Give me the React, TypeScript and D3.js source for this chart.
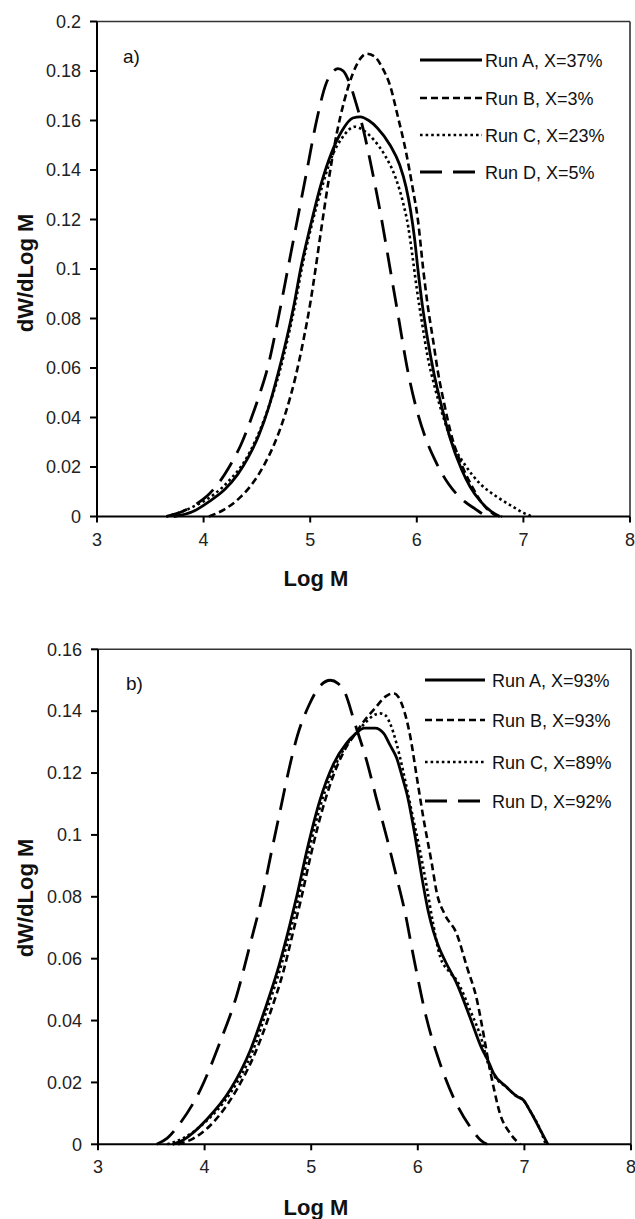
import React from "react";
import * as d3 from "d3";

type Pt = [number, number];

// ---------- Panel a) ----------
const aRunA: Pt[] = [[3.72,0],[3.9,0.002],[4.05,0.006],[4.2,0.011],[4.32,0.017],[4.42,0.024],[4.52,0.033],[4.61,0.044],[4.7,0.058],[4.78,0.072],[4.85,0.086],[4.91,0.1],[5.0,0.117],[5.1,0.134],[5.2,0.147],[5.3,0.156],[5.4,0.161],[5.47,0.1615],[5.55,0.16],[5.63,0.157],[5.75,0.15],[5.84,0.142],[5.9,0.133],[5.94,0.124],[5.98,0.112],[6.01,0.1],[6.05,0.086],[6.1,0.072],[6.16,0.058],[6.23,0.045],[6.31,0.032],[6.42,0.019],[6.5,0.012],[6.6,0.006],[6.7,0.002],[6.78,0]];
const aRunB: Pt[] = [[4.05,0],[4.2,0.003],[4.35,0.008],[4.47,0.014],[4.57,0.021],[4.67,0.03],[4.77,0.042],[4.86,0.056],[4.94,0.072],[5.0,0.086],[5.05,0.1],[5.1,0.115],[5.17,0.135],[5.25,0.155],[5.32,0.168],[5.4,0.179],[5.47,0.185],[5.53,0.187],[5.6,0.186],[5.68,0.181],[5.75,0.174],[5.82,0.162],[5.9,0.147],[5.96,0.133],[6.01,0.12],[6.06,0.1],[6.1,0.086],[6.15,0.072],[6.2,0.058],[6.26,0.045],[6.33,0.032],[6.43,0.02],[6.52,0.012],[6.62,0.005],[6.72,0.001],[6.8,0]];
const aRunC: Pt[] = [[3.65,0],[3.8,0.002],[3.95,0.005],[4.1,0.009],[4.25,0.015],[4.38,0.022],[4.49,0.031],[4.6,0.043],[4.71,0.058],[4.79,0.072],[4.86,0.086],[4.92,0.1],[5.01,0.117],[5.11,0.133],[5.2,0.145],[5.3,0.153],[5.42,0.1575],[5.5,0.156],[5.6,0.152],[5.7,0.146],[5.8,0.137],[5.87,0.127],[5.92,0.117],[5.96,0.105],[6.0,0.092],[6.05,0.078],[6.1,0.065],[6.17,0.052],[6.25,0.04],[6.33,0.03],[6.45,0.021],[6.6,0.013],[6.75,0.008],[6.9,0.004],[7.0,0.0015],[7.08,0]];
const aRunD: Pt[] = [[3.65,0],[3.8,0.002],[3.93,0.005],[4.05,0.009],[4.15,0.014],[4.24,0.02],[4.35,0.029],[4.45,0.04],[4.53,0.05],[4.6,0.06],[4.7,0.08],[4.79,0.1],[4.88,0.12],[4.97,0.14],[5.06,0.16],[5.15,0.175],[5.22,0.18],[5.26,0.181],[5.31,0.18],[5.37,0.175],[5.43,0.167],[5.5,0.156],[5.58,0.14],[5.67,0.12],[5.75,0.1],[5.83,0.08],[5.91,0.06],[6.0,0.043],[6.08,0.032],[6.18,0.022],[6.3,0.013],[6.45,0.006],[6.55,0.003],[6.65,0]];
const aLabels = ["Run A, X=37%", "Run B, X=3%", "Run C, X=23%", "Run D, X=5%"];
const aYTicks = [0, 0.02, 0.04, 0.06, 0.08, 0.1, 0.12, 0.14, 0.16, 0.18, 0.2];

// ---------- Panel b) ----------
const bRunA: Pt[] = [[3.7,0],[3.8,0.0014],[4.02,0.008],[4.24,0.0176],[4.43,0.0305],[4.56,0.043],[4.7,0.058],[4.8,0.071],[4.87,0.081],[4.96,0.095],[5.08,0.111],[5.21,0.123],[5.33,0.1296],[5.41,0.1325],[5.5,0.1345],[5.6,0.1345],[5.68,0.1328],[5.74,0.129],[5.8,0.125],[5.86,0.118],[5.9,0.113],[5.97,0.1005],[6.05,0.084],[6.1,0.075],[6.145,0.069],[6.2,0.0635],[6.26,0.059],[6.365,0.052],[6.49,0.041],[6.6,0.031],[6.66,0.027],[6.71,0.023],[6.83,0.0186],[6.93,0.0155],[6.99,0.0143],[7.05,0.011],[7.15,0.0046],[7.22,0]];
const bRunB: Pt[] = [[3.75,0],[3.9,0.002],[4.05,0.006],[4.3,0.0176],[4.48,0.03],[4.6,0.041],[4.74,0.056],[4.84,0.07],[4.91,0.08],[5.0,0.094],[5.12,0.11],[5.24,0.122],[5.34,0.129],[5.41,0.1325],[5.5,0.137],[5.6,0.141],[5.7,0.1448],[5.77,0.1458],[5.82,0.1445],[5.86,0.1414],[5.93,0.1317],[5.99,0.1188],[6.05,0.106],[6.13,0.091],[6.18,0.081],[6.25,0.0745],[6.365,0.068],[6.46,0.0574],[6.555,0.0466],[6.615,0.0359],[6.66,0.0272],[6.71,0.0186],[6.77,0.01],[6.865,0.0036],[6.96,0]];
const bRunC: Pt[] = [[3.65,0],[3.8,0.002],[4.0,0.007],[4.25,0.017],[4.45,0.03],[4.58,0.043],[4.72,0.058],[4.82,0.071],[4.89,0.081],[4.98,0.095],[5.1,0.111],[5.22,0.122],[5.33,0.129],[5.41,0.1325],[5.5,0.136],[5.58,0.1385],[5.645,0.1393],[5.7,0.1385],[5.74,0.136],[5.8,0.1296],[5.86,0.121],[5.94,0.108],[6.02,0.095],[6.08,0.084],[6.14,0.072],[6.21,0.0606],[6.29,0.056],[6.365,0.053],[6.49,0.0434],[6.6,0.0337],[6.66,0.026],[6.72,0.022],[6.83,0.0185],[6.93,0.0155],[6.99,0.0143],[7.05,0.011],[7.15,0.0046],[7.2,0]];
const bRunD: Pt[] = [[3.55,0],[3.65,0.002],[3.77,0.0068],[3.96,0.0176],[4.14,0.0326],[4.3,0.048],[4.43,0.065],[4.54,0.08],[4.63,0.095],[4.71,0.108],[4.79,0.121],[4.87,0.132],[4.98,0.142],[5.08,0.148],[5.18,0.15],[5.25,0.149],[5.31,0.1465],[5.41,0.136],[5.52,0.124],[5.61,0.112],[5.71,0.099],[5.8,0.0865],[5.88,0.075],[5.96,0.0606],[6.08,0.041],[6.21,0.026],[6.36,0.0133],[6.49,0.0057],[6.6,0.001],[6.65,0]];
const bLabels = ["Run A, X=93%", "Run B, X=93%", "Run C, X=89%", "Run D, X=92%"];
const bYTicks = [0, 0.02, 0.04, 0.06, 0.08, 0.1, 0.12, 0.14, 0.16];

const xTicks = [3, 4, 5, 6, 7, 8];

const FONT = "'Liberation Sans', Arial, Helvetica, sans-serif";

const styles = [
  { dash: "none", width: 2.8 },
  { dash: "7,4", width: 2.6 },
  { dash: "2.6,3", width: 2.6 },
  { dash: "22,11", width: 2.8 },
];

interface PanelProps {
  left: number; right: number; top: number; bottom: number;
  yMax: number; yTicks: number[];
  series: Pt[][]; labels: string[];
  letter: string; letterX: number; letterY: number;
  legX1: number; legX2: number; legTextX: number; legY: number[];
  xLabelBase: number; xTitleBase: number; yTitleY: number;
}

function Panel(p: PanelProps) {
  const x = d3.scaleLinear().domain([3, 8]).range([p.left, p.right]);
  const y = d3.scaleLinear().domain([0, p.yMax]).range([p.bottom, p.top]);
  const line = d3.line<Pt>().x(d => x(d[0])).y(d => y(d[1])).curve(d3.curveMonotoneX);
  const fmt = (v: number) => (v === 0 ? "0" : String(+v.toFixed(2)));
  return (
    <g>
      <line x1={p.left} x2={p.right} y1={p.top} y2={p.top} stroke="#333" strokeWidth={1.6} />
      <line x1={p.right} x2={p.right} y1={p.top} y2={p.bottom} stroke="#333" strokeWidth={1.6} />
      {p.series.map((s, i) => (
        <path key={i} d={line(s) || ""} fill="none" stroke="#000"
          strokeWidth={styles[i].width} strokeDasharray={styles[i].dash} strokeLinejoin="round" />
      ))}
      <line x1={p.left} x2={p.right} y1={p.bottom} y2={p.bottom} stroke="#000" strokeWidth={2} />
      <line x1={p.left} x2={p.left} y1={p.top} y2={p.bottom} stroke="#000" strokeWidth={2} />
      {p.yTicks.map(t => (
        <g key={"y" + t}>
          <line x1={p.left - 7} x2={p.left} y1={y(t)} y2={y(t)} stroke="#000" strokeWidth={2} />
          <text x={p.left - 16} y={y(t) + 6.3} textAnchor="end" fontFamily={FONT} fontSize={18} fill="#222">{fmt(t)}</text>
        </g>
      ))}
      {xTicks.map(t => (
        <g key={"x" + t}>
          <line x1={x(t)} x2={x(t)} y1={p.bottom} y2={p.bottom + 6} stroke="#000" strokeWidth={2} />
          <text x={x(t)} y={p.xLabelBase} textAnchor="middle" fontFamily={FONT} fontSize={18} fill="#222">{t}</text>
        </g>
      ))}
      <text x={316} y={p.xTitleBase} textAnchor="middle" fontFamily={FONT} fontSize={22} fontWeight="bold" fill="#111">Log M</text>
      <text transform={`translate(33,${p.yTitleY}) rotate(-90)`} textAnchor="middle" fontFamily={FONT} fontSize={22} fontWeight="bold" fill="#111">dW/dLog M</text>
      <text x={p.letterX} y={p.letterY} fontFamily={FONT} fontSize={19} fill="#111">{p.letter}</text>
      {p.labels.map((lab, i) => (
        <g key={"l" + i}>
          <line x1={p.legX1} x2={p.legX2} y1={p.legY[i]} y2={p.legY[i]} stroke="#000"
            strokeWidth={styles[i].width} strokeDasharray={styles[i].dash} />
          <text x={p.legTextX} y={p.legY[i] + 6.5} fontFamily={FONT} fontSize={18} fill="#111">{lab}</text>
        </g>
      ))}
    </g>
  );
}

export default function App() {
  return (
    <svg width={635} height={1219} style={{ position: "absolute", left: 0, top: 0, background: "#fff" }}>
      <rect x={0} y={0} width={635} height={1219} fill="#fff" />
      <Panel left={97} right={630} top={21.5} bottom={516.5} yMax={0.2} yTicks={aYTicks}
        series={[aRunA, aRunB, aRunC, aRunD]} labels={aLabels}
        letter="a)" letterX={123} letterY={63}
        legX1={420} legX2={482} legTextX={485} legY={[60, 98, 135, 172]}
        xLabelBase={546} xTitleBase={586} yTitleY={273} />
      <Panel left={98} right={631} top={649.3} bottom={1144.3} yMax={0.16} yTicks={bYTicks}
        series={[bRunA, bRunB, bRunC, bRunD]} labels={bLabels}
        letter="b)" letterX={126} letterY={690}
        legX1={425} legX2={485} legTextX={492} legY={[680, 720, 762, 801]}
        xLabelBase={1173} xTitleBase={1215} yTitleY={898} />
    </svg>
  );
}
